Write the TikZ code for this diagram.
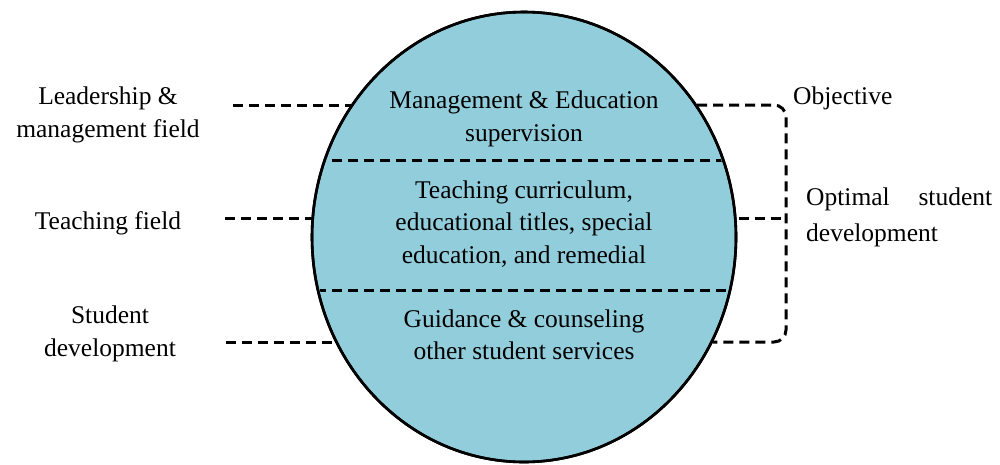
\documentclass[tikz,border=0pt]{standalone}
\usepackage{fontspec}
\setmainfont{Liberation Serif}
\usetikzlibrary{shapes.geometric}
\definecolor{fillblue}{RGB}{146,205,220}
\tikzset{
  dline/.style={line width=3pt, dash pattern=on 10pt off 6pt},
  txt/.style={font=\fontsize{25.5}{32.5}\selectfont, inner sep=0pt, align=center},
}
\begin{document}
\begin{tikzpicture}[x=1pt,y=-1pt]
\useasboundingbox (0,0) rectangle (1000,464);
% ellipse
\node[ellipse, draw, line width=2.6pt, fill=fillblue, minimum width=424pt, minimum height=450pt, inner sep=0pt] (E) at (524,237) {};
\begin{scope}
  \clip (524,237) ellipse [x radius=210pt, y radius=223pt];
  \coordinate (d1l) at (300,160); \coordinate (d1r) at (760,160);
  \coordinate (d2l) at (300,290); \coordinate (d2r) at (760,290);
  \draw[dline] (d1l) -- (d1r);
  \draw[dline] (d2l) -- (d2r);
\end{scope}
\draw[line width=2.6pt] (524,237) ellipse [x radius=212pt, y radius=225pt];
% inner texts
\node[txt] (t1) at (524,119) {Management \& Education\\supervision};
\node[txt] (t2) at (524,224) {Teaching curriculum,\\educational titles, special\\education, and remedial};
\node[txt] (t3) at (524,335) {Guidance \& counseling\\other student services};
% left labels
\node[txt] (L1) at (108,115) {Leadership \&\\management field};
\node[txt] (L2) at (108,223) {Teaching field};
\node[txt] (L3) at (110,334) {Student\\development};
\coordinate (L1a) at (233,105); \coordinate (L1b) at (352,105);
\coordinate (L2a) at (225,218); \coordinate (L2b) at (312,218);
\coordinate (L3a) at (226,342); \coordinate (L3b) at (337,342);
\draw[dline] (L1a) -- (L1b);
\draw[dline] (L2a) -- (L2b);
\draw[dline] (L3a) -- (L3b);
% right bracket
\coordinate (R1) at (697,105);
\coordinate (R2) at (739,218);
\coordinate (R3) at (713,342);
\coordinate (B1) at (786,105);
\coordinate (B2) at (786,218);
\coordinate (B3) at (786,342);
\draw[dline, rounded corners=12pt] (R1) -- (B1) -- (B3) -- (R3);
\draw[dline] (R2) -- (B2);
% right labels
\node[txt, anchor=west] (O) at (793,98) {Objective};
\node[txt, anchor=west, align=left, font=\fontsize{25.5}{36}\selectfont] (S) at (806,217) {\makebox[186pt][s]{Optimal student}\\development};
\end{tikzpicture}
\end{document}
